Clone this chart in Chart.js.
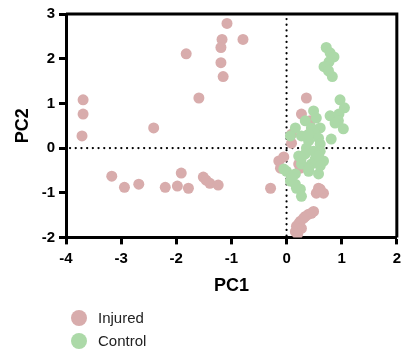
<!DOCTYPE html>
<html>
<head>
<meta charset="utf-8">
<script src="https://cdn.jsdelivr.net/npm/chart.js@4/dist/chart.umd.min.js"></script>
<style>
  html, body { margin: 0; padding: 0; background: #fff; }
  #wrap { position: relative; width: 406px; height: 356px; font-family: "Liberation Sans", Arial, sans-serif; }
  #legend { position: absolute; left: 71px; top: 308px; font-size: 15px; color: #222; }
  #legend div { height: 23px; line-height: 20px; white-space: nowrap; }
  #legend span.dot { display: inline-block; width: 16px; height: 16px; border-radius: 50%; vertical-align: -3px; margin-right: 11px; }
</style>
</head>
<body>
<div id="wrap">
  <canvas id="mycanvas" width="406" height="356"></canvas>
  <div id="legend"></div>
</div>
<script>
// PCA scores
var injuredX = [-3.69, -3.69, -3.71, -2.41, -1.82, -1.59,
  -1.08, -1.17, -0.79, -1.19, -1.19, -1.15,
  -3.17, -2.94, -2.68, -2.20, -1.98, -1.91, -1.78, -1.51, -1.46, -1.39, -1.24, -0.29,
  0.36, 0.27, 0.43, 0.09, 0.09, -0.05, -0.14, -0.11, 0.22, 0.25,
  0.58, 0.67, 0.54, 0.61,
  0.49, 0.40, 0.34, 0.45, 0.31, 0.25, 0.22, 0.18, 0.27, 0.16, 0.22, 0.20];
var injuredY = [1.08, 0.76, 0.27, 0.45, 2.11, 1.12,
  2.79, 2.43, 2.43, 2.25, 1.91, 1.60,
  -0.63, -0.88, -0.81, -0.88, -0.85, -0.56, -0.90, -0.65, -0.72, -0.79, -0.83, -0.90,
  1.12, 0.76, 0.61, 0.31, 0.11, -0.20, -0.29, -0.45, -0.36, -0.45,
  -0.90, -1.01, -1.01, -0.92,
  -1.42, -1.48, -1.53, -1.46, -1.57, -1.64, -1.69, -1.75, -1.80, -1.87, -1.82, -1.93];

var controlX = [0.72, 0.79, 0.86, 0.77, 0.68, 0.76, 0.83,
  0.97, 1.05, 0.79, 0.95, 0.94, 0.88, 1.03, 0.81,
  0.49, 0.54, 0.34, 0.16, 0.07, 0.45, 0.61, 0.52, 0.40, 0.58, 0.61, 0.27, 0.36, 0.40,
  0.22, 0.34, 0.49, 0.61, 0.67, 0.58, 0.40, 0.00, 0.07, 0.16, 0.25, 0.27, 0.16, 0.45,
  0.52, 0.27, -0.05, 0.09, 0.18, 0.40, 0.58, 0.27, 0.61];
var controlY = [2.25, 2.13, 2.04, 1.93, 1.82, 1.73, 1.60,
  1.08, 0.90, 0.72, 0.76, 0.61, 0.56, 0.43, 0.20,
  0.83, 0.67, 0.61, 0.45, 0.27, 0.45, 0.45, 0.31, 0.16, 0.22, 0.09, 0.27, 0.00, 0.31,
  -0.18, -0.13, -0.07, -0.07, -0.29, -0.58, -0.52, -0.52, -0.74, -0.81, -0.92, -1.08, -0.58, -0.36,
  -0.25, -0.36, -0.47, -0.63, -0.90, -0.47, -0.18, -0.22, -0.40];

var groupNames = ['Injured', 'Control'];
var groupColors = ['rgb(216, 172, 172)', 'rgb(172, 217, 168)'];

function toPoints(xs, ys) {
  var pts = [];
  for (var i = 0; i < xs.length; i++) pts.push({x: xs[i], y: ys[i]});
  return pts;
}

// frame on top/right plus dotted zero lines
var framePlugin = {
  id: 'frame',
  beforeDatasetsDraw: function(chart) {
    var ctx = chart.ctx, a = chart.chartArea;
    var x0 = chart.scales.x.getPixelForValue(0);
    var y0 = chart.scales.y.getPixelForValue(0);
    ctx.save();
    ctx.strokeStyle = '#000';
    ctx.lineWidth = 2.2;
    ctx.lineCap = 'round';
    ctx.setLineDash([0.1, 5.6]);
    ctx.beginPath();
    ctx.moveTo(a.left + 4, y0); ctx.lineTo(a.right - 4, y0);
    ctx.moveTo(x0, a.top + 5); ctx.lineTo(x0, a.bottom);
    ctx.stroke();
    ctx.restore();
  },
  afterDraw: function(chart) {
    var ctx = chart.ctx, a = chart.chartArea;
    ctx.save();
    ctx.strokeStyle = '#000';
    ctx.lineWidth = 3;
    ctx.beginPath();
    ctx.moveTo(a.left, a.top); ctx.lineTo(a.right, a.top); ctx.lineTo(a.right, a.bottom);
    ctx.stroke();
    ctx.restore();
  }
};

var tickFont = {family: '"Liberation Sans", Arial, sans-serif', size: 15, weight: 'bold'};
var titleFont = {family: '"Liberation Sans", Arial, sans-serif', size: 18, weight: 'bold'};

var ctx = document.getElementById('mycanvas').getContext('2d');
var chart = new Chart(ctx, {
  type: 'scatter',
  data: {
    datasets: [
      {label: groupNames[0], data: toPoints(injuredX, injuredY), backgroundColor: groupColors[0], borderWidth: 0, pointRadius: 5.5, order: 1},
      {label: groupNames[1], data: toPoints(controlX, controlY), backgroundColor: groupColors[1], borderWidth: 0, pointRadius: 5.5, order: 0}
    ]
  },
  options: {
    responsive: false,
    animation: false,
    layout: {padding: {left: 0, right: 4, top: 14, bottom: 55}},
    plugins: {legend: {display: false}, tooltip: {enabled: false}},
    scales: {
      x: {
        min: -4, max: 2,
        ticks: {stepSize: 1, color: '#000', font: tickFont, padding: 5},
        grid: {drawOnChartArea: false, drawTicks: true, tickLength: 7, tickWidth: 3, tickColor: '#000', color: 'transparent'},
        border: {width: 3, color: '#000'},
        title: {display: true, text: 'PC1', color: '#000', font: titleFont, padding: {top: 3}}
      },
      y: {
        min: -2, max: 3,
        ticks: {stepSize: 1, color: '#000', font: tickFont, padding: 4},
        grid: {drawOnChartArea: false, drawTicks: true, tickLength: 7, tickWidth: 3, tickColor: '#000', color: 'transparent'},
        border: {width: 3, color: '#000'},
        title: {display: true, text: 'PC2', color: '#000', font: titleFont, padding: {top: 12, bottom: 6}},
        afterFit: function(scale) { scale.width = 66; }
      }
    }
  },
  plugins: [framePlugin]
});

var legend = document.getElementById('legend');
for (var i = 0; i < groupNames.length; i++) {
  var row = document.createElement('div');
  row.innerHTML = '<span class="dot" style="background:' + groupColors[i] + '"></span>' + groupNames[i];
  legend.appendChild(row);
}
</script>
</body>
</html>
